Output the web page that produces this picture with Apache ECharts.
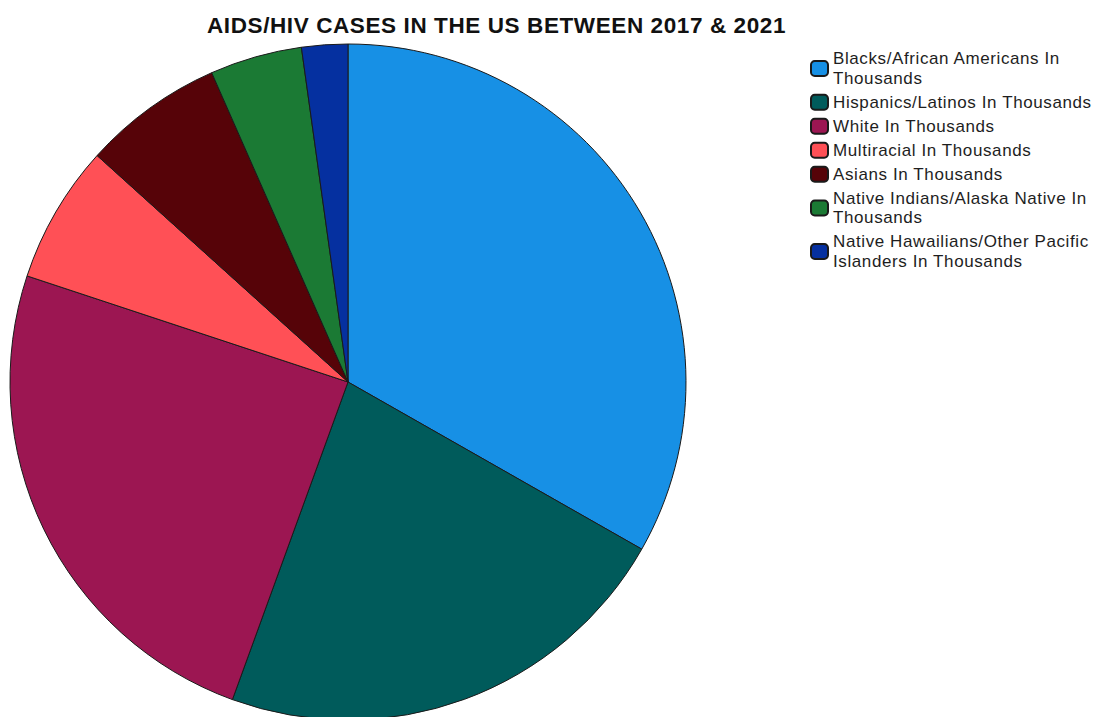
<!DOCTYPE html>
<html>
<head>
<meta charset="utf-8">
<title>AIDS/HIV cases in the US between 2017 & 2021</title>
<script src="https://cdn.jsdelivr.net/npm/echarts@6/dist/echarts.min.js"></script>
<style>
  html, body { margin: 0; padding: 0; background: #ffffff; }
  #chart { width: 1106px; height: 717px; }
  /* slightly open letter spacing, like GDI-rendered Arial */
  #chart svg text { letter-spacing: 0.6px; }
</style>
</head>
<body>
<div id="chart"></div>
<script>
// Groups shown in the pie (values in thousands)
const categories = [
  'Blacks/African Americans In Thousands',
  'Hispanics/Latinos In Thousands',
  'White In Thousands',
  'Multiracial In Thousands',
  'Asians In Thousands',
  'Native Indians/Alaska Native In Thousands',
  'Native Hawailians/Other Pacific Islanders In Thousands'
];
// Legend text, wrapped where the long names break
const legendLabels = [
  'Blacks/African Americans In\nThousands',
  'Hispanics/Latinos In Thousands',
  'White In Thousands',
  'Multiracial In Thousands',
  'Asians In Thousands',
  'Native Indians/Alaska Native In\nThousands',
  'Native Hawailians/Other Pacific\nIslanders In Thousands'
];
const cases = [33.2, 22.3, 24.5, 6.6, 6.7, 4.4, 2.2];
const sliceColors = ['#1790e5', '#005b5b', '#9c1652', '#ff5056', '#560308', '#1b7a34', '#0530a0'];

const chart = echarts.init(document.getElementById('chart'), null, { renderer: 'svg' });

const pieData = categories.map((name, i) => ({
  name: name,
  value: cases[i],
  itemStyle: { color: sliceColors[i] }
}));

chart.setOption({
  animation: false,
  backgroundColor: '#ffffff',
  title: {
    text: 'AIDS/HIV CASES IN THE US BETWEEN 2017 & 2021',
    left: 207,
    top: 14,
    padding: 0,
    textStyle: {
      fontFamily: 'Liberation Sans, Arial, sans-serif',
      fontWeight: 'bold',
      fontSize: 22.5,
      color: '#111111'
    }
  },
  legend: {
    orient: 'vertical',
    left: 810,
    top: 49,
    padding: 0,
    itemWidth: 17,
    itemHeight: 15,
    itemGap: 4.5,
    icon: 'roundRect',
    selectedMode: false,
    data: categories,
    formatter: name => legendLabels[categories.indexOf(name)],
    textStyle: {
      fontFamily: 'Liberation Sans, Arial, sans-serif',
      fontSize: 17,
      lineHeight: 19.5,
      color: '#1e1e1e'
    }
  },
  series: [{
    type: 'pie',
    center: [348, 382],
    radius: 338,
    startAngle: 90,
    clockwise: true,
    label: { show: false },
    labelLine: { show: false },
    emphasis: { disabled: true },
    itemStyle: { borderColor: '#1a1a1a', borderWidth: 1 },
    data: pieData
  }]
});
</script>
</body>
</html>
